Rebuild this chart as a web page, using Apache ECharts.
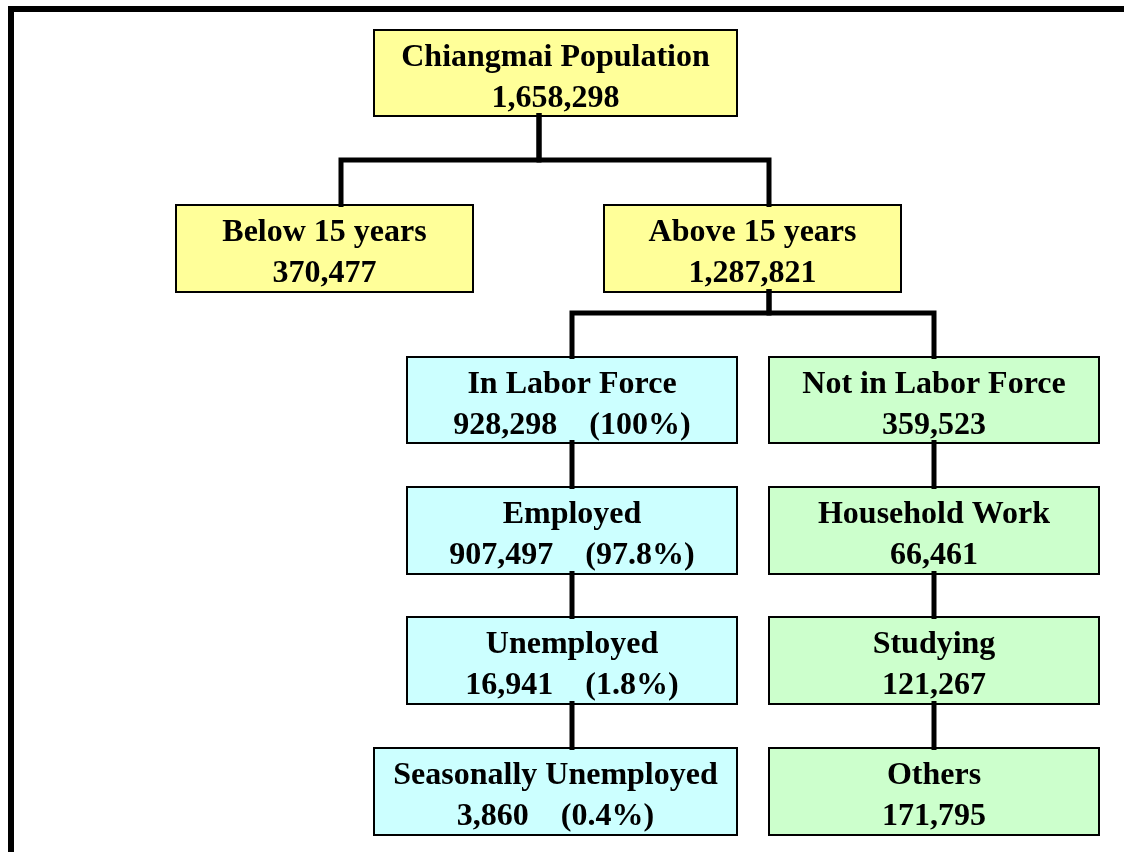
<!DOCTYPE html>
<html>
<head>
<meta charset="utf-8">
<title>Chiangmai Population</title>
<script src="https://cdn.jsdelivr.net/npm/echarts@6/dist/echarts.min.js"></script>
<style>
  html, body { margin: 0; padding: 0; background: #fff; }
  #myChart { width: 1124px; height: 852px; }
</style>
</head>
<body>
<div id="myChart"></div>
<script>
// node data
var names = ["Chiangmai Population", "Below 15 years", "Above 15 years",
  "In Labor Force", "Employed", "Unemployed", "Seasonally Unemployed",
  "Not in Labor Force", "Household Work", "Studying", "Others"];
var values = [1658298, 370477, 1287821, 928298, 907497, 16941, 3860,
  359523, 66461, 121267, 171795];
var shares = [null, null, null, "100%", "97.8%", "1.8%", "0.4%",
  null, null, null, null];
var parents = [-1, 0, 0, 2, 3, 4, 5, 2, 7, 8, 9];

// layout (axis units = pixels of the 1124x852 canvas)
var layout = [
  { cx: 555.5, cy: 73,    w: 363, h: 86, link: 539, fill: "#ffff99" },
  { cx: 324.5, cy: 248.5, w: 297, h: 87, link: 341, fill: "#ffff99" },
  { cx: 752.5, cy: 248.5, w: 297, h: 87, link: 769, fill: "#ffff99" },
  { cx: 572, cy: 400,   w: 330, h: 86, link: 572, fill: "#ccffff" },
  { cx: 572, cy: 530.5, w: 330, h: 87, link: 572, fill: "#ccffff" },
  { cx: 572, cy: 660.5, w: 330, h: 87, link: 572, fill: "#ccffff" },
  { cx: 555.5, cy: 791.5, w: 363, h: 87, link: 572, fill: "#ccffff" },
  { cx: 934, cy: 400,   w: 330, h: 86, link: 934, fill: "#ccffcc" },
  { cx: 934, cy: 530.5, w: 330, h: 87, link: 934, fill: "#ccffcc" },
  { cx: 934, cy: 660.5, w: 330, h: 87, link: 934, fill: "#ccffcc" },
  { cx: 934, cy: 791.5, w: 330, h: 87, link: 934, fill: "#ccffcc" }
];
var elbowY = { 0: 160, 2: 313 };

var nodeData = names.map(function (n, i) {
  var l = layout[i];
  var label = n + "\n" + values[i].toLocaleString("en-US");
  if (shares[i]) label += "    (" + shares[i] + ")";
  return { value: [l.cx, l.cy, l.w, l.h], label: label, fill: l.fill };
});

var linkData = [];
parents.forEach(function (p, i) {
  if (p < 0) return;
  var a = layout[p], b = layout[i];
  var top = a.cy + a.h / 2 - 3, bottom = b.cy - b.h / 2 + 2;
  var coords;
  if (elbowY[p] !== undefined) {
    var my = elbowY[p];
    coords = [[a.link, top], [a.link, my], [b.link, my], [b.link, bottom]];
  } else {
    coords = [[a.link, top], [b.link, bottom]];
  }
  linkData.push({ coords: coords });
});

var myChart = echarts.init(document.getElementById("myChart"));
var option = {
  backgroundColor: "#fff",
  animation: false,
  grid: { left: 0, right: 0, top: 0, bottom: 0 },
  xAxis: { type: "value", min: 0, max: 1124, show: false },
  yAxis: { type: "value", min: 0, max: 852, inverse: true, show: false },
  graphic: [{
    type: "rect",
    shape: { x: 11, y: 9, width: 1200, height: 900 },
    style: { fill: null, stroke: "#000", lineWidth: 6 },
    z: 100
  }],
  series: [
    {
      type: "custom",
      z: 2,
      data: nodeData,
      renderItem: function (params, api) {
        var d = nodeData[params.dataIndex];
        var c = api.coord([api.value(0), api.value(1)]);
        var s = api.size([api.value(2), api.value(3)]);
        return {
          type: "group",
          children: [
            {
              type: "rect",
              shape: { x: c[0] - s[0] / 2, y: c[1] - s[1] / 2, width: s[0], height: s[1] },
              style: { fill: d.fill, stroke: "#000", lineWidth: 2 }
            },
            {
              type: "text",
              style: {
                text: d.label,
                x: c[0], y: c[1] + 5,
                align: "center", verticalAlign: "middle",
                font: "bold 32px 'Liberation Serif', 'Times New Roman', serif",
                lineHeight: 41,
                fill: "#000"
              }
            }
          ]
        };
      }
    },
    {
      type: "lines",
      coordinateSystem: "cartesian2d",
      polyline: true,
      z: 3,
      silent: true,
      lineStyle: { color: "#000", width: 5, opacity: 1, cap: "butt", join: "miter" },
      data: linkData
    }
  ]
};
myChart.setOption(option);
</script>
</body>
</html>
